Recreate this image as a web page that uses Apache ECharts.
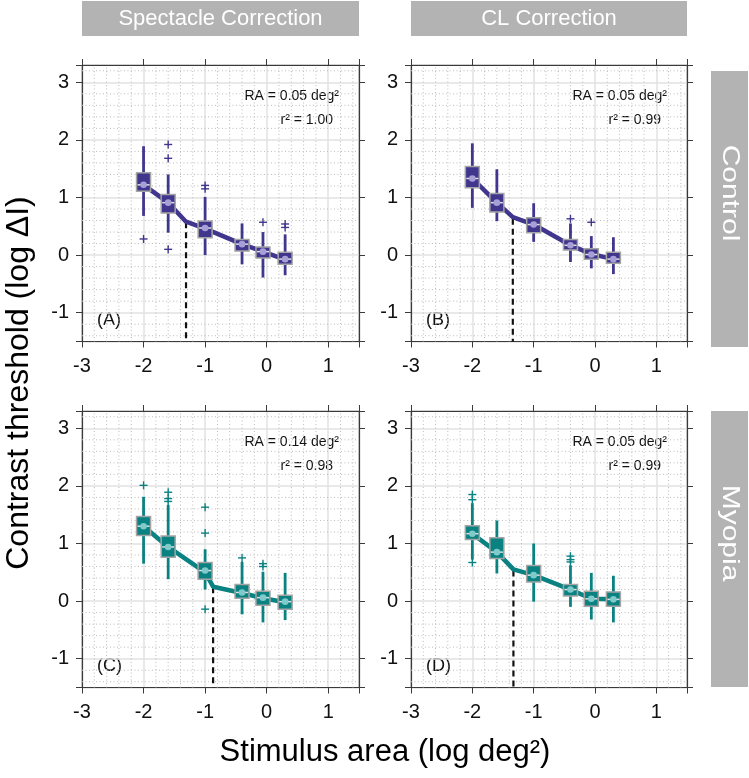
<!DOCTYPE html>
<html>
<head>
<meta charset="utf-8">
<script src="https://cdn.jsdelivr.net/npm/echarts@6.0.0/dist/echarts.min.js"></script>
<style>html,body{margin:0;background:#fff}#chart{width:749px;height:778px}</style>
</head>
<body>
<div id="chart"></div>
<script>
const xTicks = [-3, -2, -1, 0, 1];
const yTicks = [-1, 0, 1, 2, 3];
const xPos = [-2, -1.6, -1, -0.4, -0.06, 0.3];

// boxes: [lower whisker, q1, median, q3, upper whisker]
const boxA = [[0.68, 1.11, 1.22, 1.43, 1.89], [0.39, 0.73, 0.91, 1.05, 1.40], [0.00, 0.30, 0.47, 0.59, 1.01],
  [-0.16, 0.07, 0.19, 0.27, 0.55], [-0.39, -0.05, 0.06, 0.14, 0.40], [-0.35, -0.16, -0.07, 0.05, 0.36]];
const boxB = [[0.82, 1.17, 1.33, 1.54, 1.94], [0.59, 0.75, 0.91, 1.07, 1.49], [0.23, 0.39, 0.53, 0.65, 0.90],
  [-0.12, 0.09, 0.17, 0.27, 0.55], [-0.23, -0.07, 0.01, 0.11, 0.33], [-0.33, -0.14, -0.07, 0.05, 0.31]];
const boxC = [[0.65, 1.14, 1.30, 1.47, 1.81], [0.38, 0.76, 0.94, 1.13, 1.67], [0.20, 0.38, 0.53, 0.67, 0.90],
  [-0.23, 0.05, 0.15, 0.29, 0.68], [-0.37, -0.07, 0.06, 0.17, 0.51], [-0.33, -0.14, -0.01, 0.10, 0.49]];
const boxD = [[0.72, 1.07, 1.17, 1.31, 1.70], [0.48, 0.74, 0.85, 1.10, 1.40], [-0.01, 0.33, 0.45, 0.62, 1.00],
  [-0.10, 0.09, 0.20, 0.29, 0.62], [-0.32, -0.09, 0.04, 0.17, 0.49], [-0.37, -0.09, 0.03, 0.16, 0.44]];

const outA = [[-2, 0.28], [-1.6, 1.92], [-1.6, 1.68], [-1.6, 0.10], [-1, 1.21], [-1, 1.15], [-0.06, 0.57], [0.3, 0.54], [0.3, 0.48]];
const outB = [[-0.4, 0.63], [-0.06, 0.57]];
const outC = [[-2, 2.01], [-1.6, 1.89], [-1.6, 1.78], [-1.6, 1.73], [-1, 1.63], [-1, 1.18], [-1, -0.14], [-0.4, 0.75], [-0.06, 0.65], [-0.06, 0.60]];
const outD = [[-2, 1.85], [-2, 1.76], [-2, 0.67], [-0.4, 0.78], [-0.4, 0.72], [-0.4, 0.68]];

// fitted two-segment curves and their breakpoints
const fitA = [[-2, 1.22], [-1.6, 0.91], [-1.31, 0.58], [-1, 0.46], [-0.4, 0.19], [-0.06, 0.06], [0.3, -0.08]];
const fitB = [[-2, 1.33], [-1.6, 0.91], [-1.34, 0.66], [-1, 0.53], [-0.4, 0.17], [-0.06, 0.02], [0.3, -0.07]];
const fitC = [[-2, 1.30], [-1.6, 0.94], [-1, 0.50], [-0.87, 0.25], [-0.4, 0.14], [-0.06, 0.05], [0.3, -0.02]];
const fitD = [[-2, 1.17], [-1.6, 0.85], [-1.33, 0.55], [-1, 0.45], [-0.4, 0.20], [-0.06, 0.04], [0.3, 0.03]];
const kneeA = [-1.31, 0.57];
const kneeB = [-1.34, 0.63];
const kneeC = [-0.87, 0.24];
const kneeD = [-1.33, 0.53];

const raText = ["0.05", "0.05", "0.14", "0.05"];
const r2Text = ["1.00", "0.99", "0.98", "0.99"];
const panelLetters = ["(A)", "(B)", "(C)", "(D)"];
const colTitles = ["Spectacle Correction", "CL Correction"];
const rowTitles = ["Control", "Myopia"];

const font = "'Liberation Sans', Arial, Helvetica, sans-serif";
const purple = "#40368e";
const teal = "#0b8282";
const xMin = -3, xMax = 1.5, yMin = -1.5, yMax = 3.3;

const panels = [
  { left: 82, top: 65, width: 277, box: boxA, out: outA, fit: fitA, knee: kneeA, color: purple, light: "#a7a0d8" },
  { left: 411, top: 65, width: 276, box: boxB, out: outB, fit: fitB, knee: kneeB, color: purple, light: "#a7a0d8" },
  { left: 82, top: 411, width: 277, box: boxC, out: outC, fit: fitC, knee: kneeC, color: teal, light: "#7fcaca" },
  { left: 411, top: 411, width: 276, box: boxD, out: outD, fit: fitD, knee: kneeD, color: teal, light: "#7fcaca" }
];
const panelH = 276.5;

function minorGrid(params, api) {
  const children = [];
  const style = { stroke: "#bcbcbc", lineWidth: 1, lineDash: [1, 2.5] };
  for (let k = -14; k <= 7; k++) {
    if (k % 5 === 0) continue;
    const a = api.coord([k * 0.2, yMin]), b = api.coord([k * 0.2, yMax]);
    children.push({ type: "line", shape: { x1: a[0], y1: a[1], x2: b[0], y2: b[1] }, style: style });
  }
  for (let k = -7; k <= 16; k++) {
    if (k % 5 === 0) continue;
    const a = api.coord([xMin, k * 0.2]), b = api.coord([xMax, k * 0.2]);
    children.push({ type: "line", shape: { x1: a[0], y1: a[1], x2: b[0], y2: b[1] }, style: style });
  }
  return { type: "group", children: children, silent: true };
}

function boxItem(color, light) {
  return function(params, api) {
    const x = api.value(0);
    const lo = api.coord([x, api.value(1)]);
    const q1 = api.coord([x, api.value(2)]);
    const md = api.coord([x, api.value(3)]);
    const q3 = api.coord([x, api.value(4)]);
    const hi = api.coord([x, api.value(5)]);
    const w = 14;
    return {
      type: "group",
      children: [
        { type: "line", shape: { x1: lo[0], y1: lo[1], x2: hi[0], y2: hi[1] }, style: { stroke: color, lineWidth: 2.8 } },
        { type: "rect", shape: { x: q3[0] - w / 2, y: q3[1], width: w, height: q1[1] - q3[1] },
          style: { fill: color, stroke: "#a5a5a5", lineWidth: 1.5 } },
        { type: "line", shape: { x1: md[0] - w / 2 + 1, y1: md[1], x2: md[0] + w / 2 - 1, y2: md[1] },
          style: { stroke: "#dedede", lineWidth: 1.5 } },
        { type: "circle", shape: { cx: md[0], cy: md[1], r: 3.3 }, style: { fill: light } }
      ]
    };
  };
}

function plusItem(color) {
  return function(params, api) {
    const p = api.coord([api.value(0), api.value(1)]);
    const s = 4;
    const st = { stroke: color, lineWidth: 1.4 };
    return {
      type: "group",
      children: [
        { type: "line", shape: { x1: p[0] - s, y1: p[1], x2: p[0] + s, y2: p[1] }, style: st },
        { type: "line", shape: { x1: p[0], y1: p[1] - s, x2: p[0], y2: p[1] + s }, style: st }
      ]
    };
  };
}

const grid = [], xAxis = [], yAxis = [], series = [], graphic = [];
const frameLine = { show: true, onZero: false, lineStyle: { color: "#3a3a3a", width: 1.2 } };
const outTick = { show: true, inside: false, length: 6, lineStyle: { color: "#3a3a3a" } };

panels.forEach(function(p, i) {
  grid.push({ left: p.left, top: p.top, width: p.width, height: panelH, show: true,
    borderColor: "#3a3a3a", borderWidth: 1, backgroundColor: "#fff", outerBoundsMode: "none" });
});

panels.forEach(function(p, i) {
  xAxis.push({
    type: "value", gridIndex: i, min: xMin, max: xMax, position: "bottom",
    axisLine: frameLine, axisTick: outTick,
    axisLabel: { margin: 15, fontSize: 20, color: "#111", fontFamily: font,
      formatter: v => xTicks.includes(v) ? String(v) : "" },
    splitLine: { show: true, lineStyle: { color: "#e2e2e2", width: 1.5 } }
  });
  yAxis.push({
    type: "value", gridIndex: i, min: yMin, max: yMax, position: "left",
    axisLine: frameLine, axisTick: outTick,
    axisLabel: { margin: 13, fontSize: 20, color: "#111", fontFamily: font,
      formatter: v => yTicks.includes(v) ? String(v) : "" },
    splitLine: { show: true, lineStyle: { color: "#e2e2e2", width: 1.5 } }
  });
});
// ticks and frame on top and right edges
panels.forEach(function(p, i) {
  xAxis.push({
    type: "value", gridIndex: i, min: xMin, max: xMax, position: "top",
    axisLine: frameLine, axisLabel: { show: false }, splitLine: { show: false }, axisTick: outTick
  });
  yAxis.push({
    type: "value", gridIndex: i, min: yMin, max: yMax, position: "right",
    axisLine: frameLine, axisLabel: { show: false }, splitLine: { show: false }, axisTick: outTick
  });
});

panels.forEach(function(p, i) {
  series.push({
    type: "custom", xAxisIndex: i, yAxisIndex: i, z: 1, silent: true,
    renderItem: minorGrid, data: [[0, 0]]
  });
  series.push({
    type: "line", xAxisIndex: i, yAxisIndex: i, z: 2, silent: true, symbol: "none",
    data: [p.knee, [p.knee[0], yMin]],
    lineStyle: { color: "#111", width: 2.2, type: [6, 4] }
  });
  series.push({
    type: "line", xAxisIndex: i, yAxisIndex: i, z: 3, silent: true, symbol: "none",
    data: p.fit, lineStyle: { color: p.color, width: 4.5 }
  });
  series.push({
    type: "custom", xAxisIndex: i, yAxisIndex: i, z: 4, silent: true,
    renderItem: boxItem(p.color, p.light),
    encode: { x: 0, y: [1, 2, 3, 4, 5] },
    data: xPos.map((x, k) => [x].concat(p.box[k]))
  });
  series.push({
    type: "custom", xAxisIndex: i, yAxisIndex: i, z: 5, silent: true,
    renderItem: plusItem(p.color), encode: { x: 0, y: 1 }, data: p.out
  });

  const right = p.left + p.width;
  graphic.push({ type: "text", x: right - 20, y: p.top + 31,
    style: { text: "RA = " + raText[i] + " deg²", font: "14px " + font, fill: "#111", align: "right", verticalAlign: "middle" } });
  graphic.push({ type: "text", x: right - 26, y: p.top + 55,
    style: { text: "r² = " + r2Text[i], font: "14px " + font, fill: "#111", align: "right", verticalAlign: "middle" } });
  graphic.push({ type: "text", x: p.left + 15, y: p.top + panelH - 21,
    style: { text: panelLetters[i], font: "18px " + font, fill: "#111", align: "left", verticalAlign: "middle" } });
});

// strip labels
[82, 411].forEach(function(left, c) {
  const w = c === 0 ? 277 : 276;
  graphic.push({ type: "rect", shape: { x: left, y: 1, width: w, height: 35 }, style: { fill: "#b3b3b3" } });
  graphic.push({ type: "text", x: left + w / 2, y: 19,
    style: { text: colTitles[c], font: "22px " + font, fill: "#fff", align: "center", verticalAlign: "middle" } });
});
[[71, 193], [411, 533]].forEach(function(r, k) {
  graphic.push({ type: "rect", shape: { x: 711, y: r[0], width: 37, height: 276 }, style: { fill: "#b3b3b3" } });
  graphic.push({ type: "text", x: 729.5, y: r[1], rotation: -Math.PI / 2, scaleX: 1.25,
    style: { text: rowTitles[k], font: "24px " + font, fill: "#fff", align: "center", verticalAlign: "middle" } });
});

// axis titles
graphic.push({ type: "text", x: 19, y: 383, rotation: Math.PI / 2,
  style: { text: "Contrast threshold (log ΔI)", font: "32px " + font, fill: "#000", align: "center", verticalAlign: "middle" } });
graphic.push({ type: "text", x: 385, y: 752,
  style: { text: "Stimulus area (log deg²)", font: "31px " + font, fill: "#000", align: "center", verticalAlign: "middle" } });

const myChart = echarts.init(document.getElementById("chart"), null, { renderer: "canvas" });
myChart.setOption({
  animation: false,
  backgroundColor: "#fff",
  grid: grid,
  xAxis: xAxis,
  yAxis: yAxis,
  series: series,
  graphic: graphic
});
</script>
</body>
</html>
